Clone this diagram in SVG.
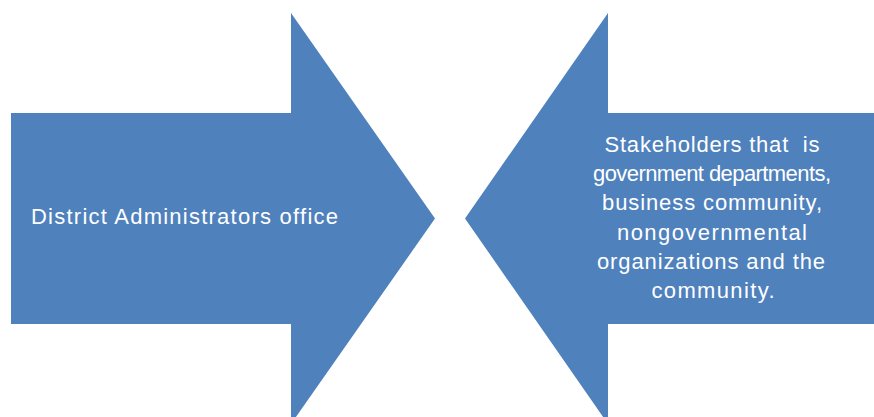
<svg xmlns="http://www.w3.org/2000/svg" width="874" height="417" viewBox="0 0 874 417">
  <style>
    .arrow { fill: #4F81BD; }
    .label { fill: #FFFFFF; font-family: "Liberation Sans", Arial, sans-serif; font-size: 22px; }
    .mid { text-anchor: middle; }
  </style>
  <rect width="874" height="417" fill="#FFFFFF"/>

  <!-- Right-pointing block arrow -->
  <g id="district-office">
    <polygon class="arrow" points="11,113 291,113 291,13 435,218.5 291,424 291,324 11,324"/>
    <text class="label" x="31" y="224" textLength="307" lengthAdjust="spacing">District Administrators office</text>
  </g>

  <!-- Left-pointing block arrow -->
  <g id="stakeholders">
    <polygon class="arrow" points="874,113 608,113 608,13 465,218.5 608,424 608,324 874,324"/>
    <text class="label mid" x="712" y="152" textLength="215" lengthAdjust="spacing" xml:space="preserve">Stakeholders that  is</text>
    <text class="label mid" x="712" y="181" textLength="238" lengthAdjust="spacing">government departments,</text>
    <text class="label mid" x="712" y="210" textLength="220" lengthAdjust="spacing">business community,</text>
    <text class="label mid" x="712" y="239.5" textLength="190" lengthAdjust="spacing">nongovernmental</text>
    <text class="label mid" x="711" y="269" textLength="228" lengthAdjust="spacing">organizations and the</text>
    <text class="label mid" x="713" y="298" textLength="123" lengthAdjust="spacing">community.</text>
  </g>
</svg>
